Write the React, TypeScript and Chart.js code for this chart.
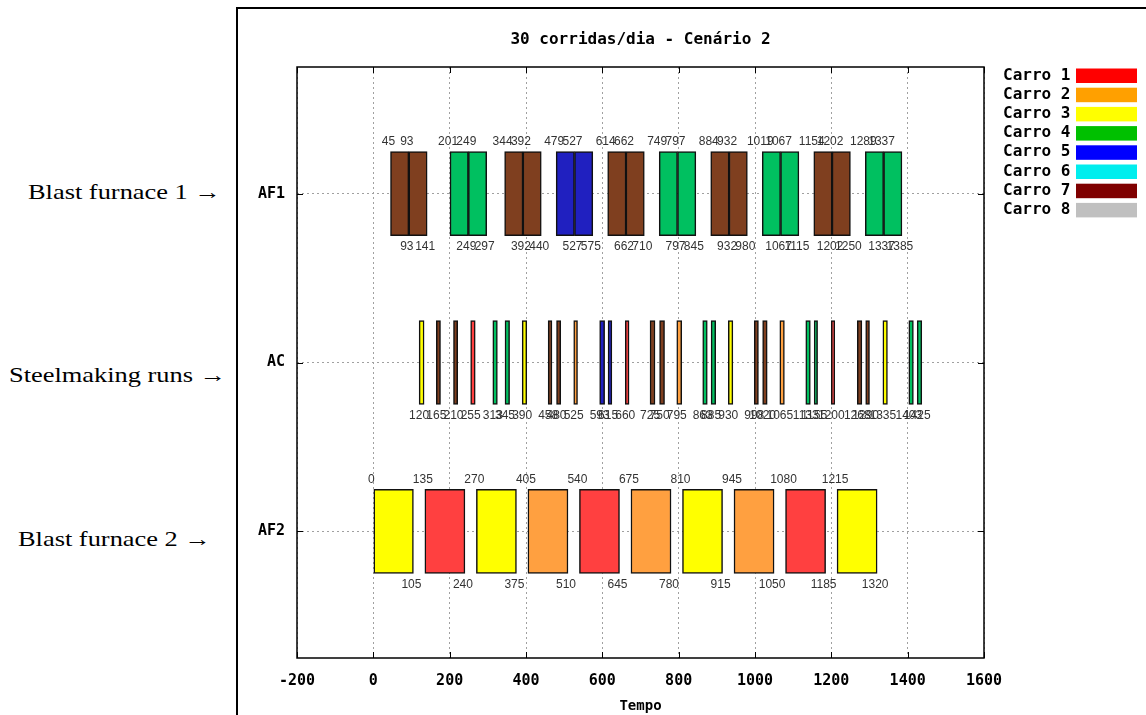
import React, { useEffect, useRef } from 'react';
import { Chart, registerables } from 'chart.js';

Chart.register(...registerables);

const TITLE = '30 corridas/dia - Cenário 2';
const X_TITLE = 'Tempo';
const ROW_LABELS = ['AF2', 'AC', 'AF1']; // y = 1, 2, 3
const X_MIN = -200;
const X_MAX = 1600;
const X_STEP = 200;

const SIDE_LABELS = ['Blast furnace 1 →', 'Steelmaking runs →', 'Blast furnace 2 →'];

const CAR_NAMES = ['Carro 1', 'Carro 2', 'Carro 3', 'Carro 4', 'Carro 5', 'Carro 6', 'Carro 7', 'Carro 8'];
const CAR_COLORS = ['#ff0000', '#ffa000', '#ffff00', '#00c000', '#0000ff', '#00eeee', '#7f0000', '#c0c0c0'];

const BAR_COLORS: Record<string, string> = {
  brown: '#7f3f1f',
  green: '#00c060',
  blue: '#2020c0',
  yellow: '#ffff00',
  red: '#ff4040',
  orange: '#ffa040',
};

// Blast furnace 1 (AF1)
const AF1_START = [45, 93, 201, 249, 344, 392, 479, 527, 614, 662, 749, 797, 884, 932, 1019, 1067, 1154, 1202, 1289, 1337];
const AF1_END = [93, 141, 249, 297, 392, 440, 527, 575, 662, 710, 797, 845, 932, 980, 1067, 1115, 1202, 1250, 1337, 1385];
const AF1_COLOR = ['brown', 'brown', 'green', 'green', 'brown', 'brown', 'blue', 'blue', 'brown', 'brown',
  'green', 'green', 'brown', 'brown', 'green', 'green', 'brown', 'brown', 'green', 'green'];

// Steelmaking runs (AC)
const AC_START = [120, 165, 210, 255, 313, 345, 390, 458, 480, 525, 593, 615, 660, 725, 750, 795, 863, 885, 930,
  998, 1020, 1065, 1133, 1155, 1200, 1268, 1290, 1335, 1403, 1425];
const AC_END = [133, 176, 221, 267, 325, 357, 402, 468, 491, 535, 606, 625, 670, 738, 763, 808, 875, 897, 942,
  1009, 1032, 1077, 1145, 1164, 1209, 1280, 1300, 1347, 1415, 1437];
const AC_COLOR = ['yellow', 'brown', 'brown', 'red', 'green', 'green', 'yellow', 'brown', 'brown', 'orange',
  'blue', 'blue', 'red', 'brown', 'brown', 'orange', 'green', 'green', 'yellow', 'brown', 'brown', 'orange',
  'green', 'green', 'red', 'brown', 'brown', 'yellow', 'green', 'green'];

// Blast furnace 2 (AF2)
const AF2_START = [0, 135, 270, 405, 540, 675, 810, 945, 1080, 1215];
const AF2_END = [105, 240, 375, 510, 645, 780, 915, 1050, 1185, 1320];
const AF2_COLOR = ['yellow', 'red', 'yellow', 'orange', 'red', 'orange', 'yellow', 'orange', 'red', 'yellow'];

const MONO = '"DejaVu Sans Mono", "Liberation Mono", monospace';

export default function App() {
  const ref = useRef<HTMLCanvasElement>(null);

  useEffect(() => {
    const canvas = ref.current;
    if (!canvas) return;
    const rows = [
      { y: 3, s: AF1_START, e: AF1_END, c: AF1_COLOR, ac: false },
      { y: 2, s: AC_START, e: AC_END, c: AC_COLOR, ac: true },
      { y: 1, s: AF2_START, e: AF2_END, c: AF2_COLOR, ac: false },
    ];
    const data: any[] = [];
    const bg: string[] = [];
    const info: { start: number; end: number; ac: boolean }[] = [];
    rows.forEach((r) => {
      r.s.forEach((s, i) => {
        data.push({ x: [s, r.e[i]], y: r.y });
        bg.push(BAR_COLORS[r.c[i]]);
        info.push({ start: s, end: r.e[i], ac: r.ac });
      });
    });

    const decor = {
      id: 'decor',
      afterDatasetsDraw(chart: any) {
        const ctx = chart.ctx as CanvasRenderingContext2D;
        const { left, right, top, bottom } = chart.chartArea;
        const xs = chart.scales.x;
        const ys = chart.scales.y;
        ctx.save();
        // value labels
        ctx.font = '12px "Liberation Sans", Arial, sans-serif';
        ctx.fillStyle = '#333';
        ctx.textAlign = 'center';
        ctx.textBaseline = 'middle';
        const meta = chart.getDatasetMeta(0);
        meta.data.forEach((el: any, i: number) => {
          const it = info[i];
          const p = el.getProps(['y', 'height'], true);
          const bt = p.y - p.height / 2;
          const bb = p.y + p.height / 2;
          if (it.ac) {
            ctx.fillText(String(it.start), xs.getPixelForValue(it.start), bb + 11);
          } else {
            ctx.fillText(String(it.start), xs.getPixelForValue(it.start) - 2, bt - 10);
            ctx.fillText(String(it.end), xs.getPixelForValue(it.end) - 2, bb + 11);
          }
        });
        // border
        ctx.strokeStyle = '#000';
        ctx.lineWidth = 1.5;
        ctx.setLineDash([]);
        ctx.strokeRect(left, top, right - left, bottom - top);
        // inward tick marks
        ctx.lineWidth = 1;
        ctx.beginPath();
        for (let v = X_MIN; v <= X_MAX; v += X_STEP) {
          const px = Math.round(xs.getPixelForValue(v)) + 0.5;
          ctx.moveTo(px, bottom);
          ctx.lineTo(px, bottom - 6);
          ctx.moveTo(px, top);
          ctx.lineTo(px, top + 6);
        }
        [1, 2, 3].forEach((v) => {
          const py = Math.round(ys.getPixelForValue(v)) + 0.5;
          ctx.moveTo(left, py);
          ctx.lineTo(left + 6, py);
          ctx.moveTo(right, py);
          ctx.lineTo(right - 6, py);
        });
        ctx.stroke();
        // title
        ctx.fillStyle = '#000';
        ctx.font = `bold 16px ${MONO}`;
        ctx.textAlign = 'center';
        ctx.fillText(TITLE, (left + right) / 2, 40);
        // legend
        ctx.textAlign = 'left';
        CAR_NAMES.forEach((name, i) => {
          const cy = 75.5 + i * 19.2;
          ctx.fillStyle = '#000';
          ctx.fillText(name, 1003, cy);
          ctx.fillStyle = CAR_COLORS[i];
          ctx.fillRect(1076, cy - 7, 61, 14.5);
        });
        ctx.restore();
      },
    };

    const chart = new Chart(canvas, {
      type: 'bar',
      data: {
        datasets: [
          {
            data,
            backgroundColor: bg,
            borderColor: '#111',
            borderWidth: 1.5,
            borderSkipped: false,
            barThickness: 84,
          } as any,
        ],
      },
      options: {
        indexAxis: 'y',
        responsive: false,
        animation: false,
        events: [],
        layout: { padding: { left: 237, right: 162, top: 67, bottom: 0 } },
        plugins: { legend: { display: false }, tooltip: { enabled: false }, title: { display: false } },
        scales: {
          x: {
            type: 'linear',
            position: 'bottom',
            min: X_MIN,
            max: X_MAX,
            offset: false,
            ticks: {
              stepSize: X_STEP,
              color: '#000',
              font: { family: MONO, size: 15, weight: 'bold' },
              padding: 14,
              maxRotation: 0,
              callback: (v: any) => String(v),
            },
            grid: { color: '#a0a0a0', lineWidth: 1, drawTicks: false, offset: false },
            border: { display: false, dash: [2, 3] },
            title: {
              display: true,
              text: X_TITLE,
              color: '#000',
              font: { family: MONO, size: 14, weight: 'bold' },
              padding: { top: 0, bottom: 0 },
            },
            afterFit: (axis: any) => {
              axis.height = 57;
            },
          },
          y: {
            type: 'linear',
            min: 0.25,
            max: 3.75,
            offset: false,
            afterBuildTicks: (axis: any) => {
              axis.ticks = [1, 2, 3].map((v) => ({ value: v }));
            },
            ticks: {
              color: '#000',
              font: { family: MONO, size: 15, weight: 'bold' },
              padding: 12,
              callback: (v: any) => ROW_LABELS[Number(v) - 1],
            },
            grid: { color: '#a0a0a0', lineWidth: 1, drawTicks: false, offset: false },
            border: { display: false, dash: [2, 3] },
            afterFit: (axis: any) => {
              axis.width = 60;
            },
          },
        },
      } as any,
      plugins: [decor],
    });
    return () => chart.destroy();
  }, []);

  const sideTops = [179, 362, 526];
  const sideLefts = [28, 9, 18];

  return (
    <div style={{ position: 'absolute', left: 0, top: 0, width: 1146, height: 715, background: '#fff', overflow: 'hidden' }}>
      <div
        style={{
          position: 'absolute',
          left: 236,
          top: 7,
          width: 920,
          height: 720,
          borderTop: '2px solid #000',
          borderLeft: '2px solid #000',
        }}
      />
      {SIDE_LABELS.map((t, i) => (
        <div
          key={t}
          style={{
            position: 'absolute',
            left: sideLefts[i],
            top: sideTops[i],
            fontFamily: '"Liberation Serif", "Times New Roman", serif',
            fontSize: 22,
            lineHeight: '26px',
            whiteSpace: 'nowrap',
            color: '#000',
            transform: 'scaleX(1.2)',
            transformOrigin: 'left center',
          }}
        >
          {t}
        </div>
      ))}
      <canvas ref={ref} width={1146} height={715} style={{ position: 'absolute', left: 0, top: 0 }} />
    </div>
  );
}
